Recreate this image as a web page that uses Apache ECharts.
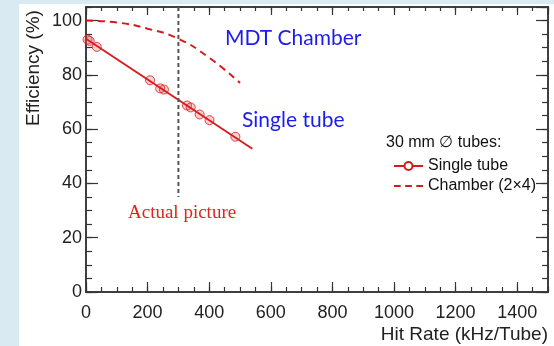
<!DOCTYPE html>
<html lang="en">
<head>
    <meta charset="UTF-8">
    <title>MDT efficiency vs hit rate</title>
    <script src="https://cdn.jsdelivr.net/npm/echarts@6.0.0/dist/echarts.min.js"></script>
    <style>
        html, body { margin: 0; padding: 0; }
    </style>
</head>
<body>
    <div id="main" style="width: 554px; height: 346px;"></div>
    <script>
        // measured single tube points
        const tubeRate = [5, 12, 35, 208, 241, 253, 328, 340, 369, 401, 485];
        const tubeEff = [93, 92.5, 90.3, 78, 75, 74.6, 68.7, 68, 65.4, 63.3, 57.2];
        // straight fit through the single tube points
        const fitRate = [0, 540];
        const fitEff = [93.3, 52.8];
        // chamber (2x4) curve
        const chamberRate = [0, 100, 200, 300, 400, 500];
        const chamberEff = [100, 99.3, 97, 93.3, 86.3, 77];
        // the "actual" rate marker
        const actualRate = [300, 300];
        const actualEff = [105, 35];

        const xTicks = [0, 200, 400, 600, 800, 1000, 1200, 1400];
        const yTicks = [0, 20, 40, 60, 80, 100];

        const pairs = (xs, ys) => xs.map((x, i) => [x, ys[i]]);

        const red = '#d7191c';
        const axisColor = '#333';
        const font = '"Liberation Sans", Arial, sans-serif';

        function xAx(pos, interval, len, labels) {
            return {
                type: 'value', position: pos, min: 0, max: 1500, interval: interval,
                axisLine: { show: true, onZero: false, lineStyle: { color: axisColor, width: 1.5 } },
                axisTick: { show: true, inside: true, length: len, lineStyle: { color: axisColor, width: 1.2 } },
                axisLabel: labels ? {
                    show: true, fontSize: 18, color: '#222', fontFamily: font, margin: 12,
                    showMaxLabel: false,
                    formatter: v => xTicks.includes(v) ? String(v) : ''
                } : { show: false },
                splitLine: { show: false }
            };
        }
        function yAx(pos, interval, len, labels) {
            return {
                type: 'value', position: pos, min: 0, max: 105, interval: interval,
                axisLine: { show: true, onZero: false, lineStyle: { color: axisColor, width: 1.5 } },
                axisTick: { show: true, inside: true, length: len, lineStyle: { color: axisColor, width: 1.2 } },
                axisLabel: labels ? {
                    show: true, fontSize: 18, color: '#222', fontFamily: font, margin: 4,
                    showMaxLabel: false,
                    formatter: v => yTicks.includes(v) ? String(v) : ''
                } : { show: false },
                splitLine: { show: false }
            };
        }

        const xAxes = [xAx('bottom', 200, 10, true), xAx('bottom', 50, 5, false),
                       xAx('top', 200, 8, false), xAx('top', 50, 4, false)];
        xAxes[0].name = 'Hit Rate (kHz/Tube)';
        xAxes[0].nameLocation = 'end';
        xAxes[0].nameGap = 0;
        xAxes[0].nameTextStyle = {
            fontSize: 19, color: '#222', fontFamily: font,
            align: 'right', verticalAlign: 'top', padding: [33, 0, 0, 0]
        };

        const myChart = echarts.init(document.getElementById('main'));
        const option = {
            animation: false,
            backgroundColor: '#d9eaf3',
            grid: { left: 86, right: 6, top: 7, bottom: 54, containLabel: false },
            xAxis: xAxes,
            yAxis: [yAx('left', 20, 12, true), yAx('left', 5, 6, false),
                    yAx('right', 20, 12, false), yAx('right', 5, 6, false)],
            legend: {
                orient: 'vertical',
                left: 388, top: 153,
                itemWidth: 29, itemHeight: 10, itemGap: 4,
                symbolKeepAspect: true,
                data: [
                    'Single tube',
                    // plain dashed line, no dot
                    { name: 'Chamber (2×4)', icon: 'path://M0,0h6v2h-6z M10,0h6v2h-6z M20,0h6v2h-6z' }
                ],
                textStyle: { fontSize: 16, color: '#111', fontFamily: font }
            },
            graphic: [
                { type: 'rect', z: -100, shape: { x: 19, y: 4, width: 540, height: 350 },
                  style: { fill: '#fff' } },
                { type: 'text', x: 34, y: 68, rotation: Math.PI / 2,
                  style: { text: 'Efficiency (%)', font: '19px ' + font, fill: '#222',
                           align: 'center', verticalAlign: 'middle' } },
                { type: 'text', x: 386, y: 143,
                  style: { text: '30 mm ∅ tubes:', font: '16px ' + font, fill: '#111',
                           verticalAlign: 'middle' } },
                { type: 'text', x: 225, y: 38,
                  style: { text: 'MDT Chamber', font: '21px Lato, "Open Sans", sans-serif', fill: '#1c1cf0',
                           verticalAlign: 'middle' } },
                { type: 'text', x: 242, y: 120,
                  style: { text: 'Single tube', font: '21px Lato, "Open Sans", sans-serif', fill: '#1c1cf0',
                           verticalAlign: 'middle' } },
                { type: 'text', x: 128, y: 213,
                  style: { text: 'Actual picture', font: '19px "Liberation Serif", serif', fill: '#e8201c',
                           verticalAlign: 'middle' } }
            ],
            series: [
                {
                    name: 'Chamber (2×4)',
                    type: 'line', smooth: true, symbol: 'none',
                    data: pairs(chamberRate, chamberEff),
                    lineStyle: { color: red, width: 2, type: [7, 5] },
                    itemStyle: { color: red }
                },
                {
                    name: 'Single tube',
                    type: 'line', symbol: 'emptyCircle', symbolSize: 7, showSymbol: false,
                    data: pairs(fitRate, fitEff),
                    lineStyle: { color: red, width: 1.8 },
                    itemStyle: { color: red }
                },
                {
                    name: 'points',
                    type: 'scatter', symbol: 'circle', symbolSize: 9,
                    data: pairs(tubeRate, tubeEff),
                    itemStyle: { color: 'rgba(230,90,90,0.35)', borderColor: red, borderWidth: 1 }
                },
                {
                    name: 'actual',
                    type: 'line', symbol: 'none',
                    data: pairs(actualRate, actualEff),
                    lineStyle: { color: '#555', width: 2, type: [4, 3] }
                }
            ]
        };
        myChart.setOption(option);
    </script>
</body>
</html>
